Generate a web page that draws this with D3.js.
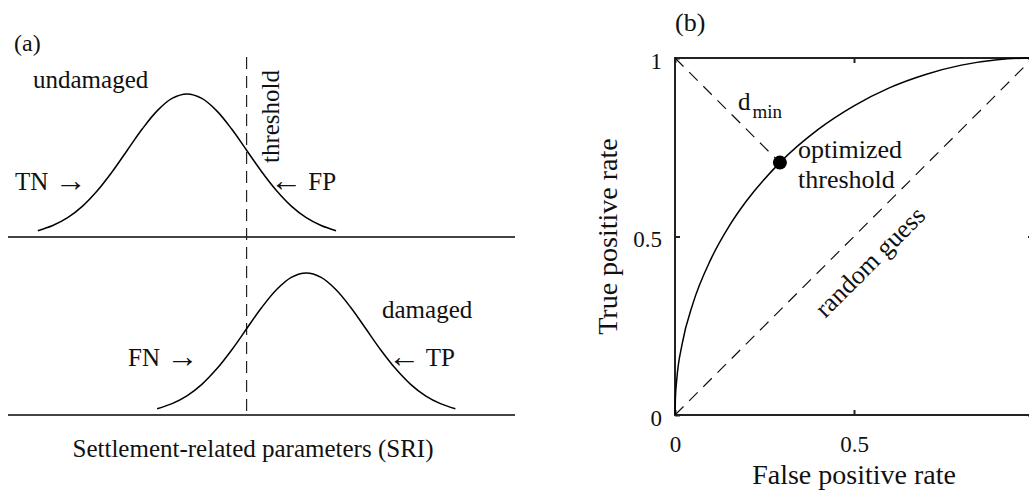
<!DOCTYPE html>
<html>
<head>
<meta charset="utf-8">
<script src="https://cdn.jsdelivr.net/npm/d3@7"></script>
<style>
  html, body { margin: 0; padding: 0; background: #fff; }
  svg { display: block; }
  text { font-family: "Liberation Serif", "Times New Roman", serif; fill: #111; }
</style>
</head>
<body>
<svg id="chart" width="1029" height="490"></svg>
<script>
// ---------------- Data ----------------
// Panel (a): SRI axis in units of the distribution spread; threshold at 0
const sriExtent = [-4, 4.5];
const thresholdValue = 0;
const undamagedX = [-3.5, -3.25, -3, -2.75, -2.5, -2.25, -2, -1.75, -1.5, -1.25, -1, -0.75, -0.5, -0.25, 0, 0.25, 0.5, 0.75, 1, 1.25, 1.5];
const undamagedY = [0.044, 0.080, 0.135, 0.216, 0.325, 0.458, 0.607, 0.755, 0.882, 0.969, 1.0, 0.969, 0.882, 0.755, 0.607, 0.458, 0.325, 0.216, 0.135, 0.080, 0.044];
const damagedX = [-1.5, -1.25, -1, -0.75, -0.5, -0.25, 0, 0.25, 0.5, 0.75, 1, 1.25, 1.5, 1.75, 2, 2.25, 2.5, 2.75, 3, 3.25, 3.5];
const damagedY = [0.044, 0.080, 0.135, 0.216, 0.325, 0.458, 0.607, 0.755, 0.882, 0.969, 1.0, 0.969, 0.882, 0.755, 0.607, 0.458, 0.325, 0.216, 0.135, 0.080, 0.044];

// Panel (b): ROC curve
const rocFPR = [0, 0.001, 0.005, 0.02, 0.05, 0.1, 0.15, 0.2, 0.293, 0.4, 0.5, 0.6, 0.7, 0.8, 0.9, 0.97, 1];
const rocTPR = [0, 0.045, 0.100, 0.199, 0.312, 0.436, 0.527, 0.600, 0.707, 0.800, 0.866, 0.917, 0.954, 0.980, 0.995, 0.9995, 1];
const optimalPoint = [0.293, 0.707];
const randomGuess = [[0, 0], [1, 1]];
const tickValues = [0, 0.5, 1];
const tickLabels = ["0", "0.5", "1"];

// ---------------- Drawing ----------------
const svg = d3.select("#chart");

// ----- Panel (a) -----
const xA = d3.scaleLinear().domain(sriExtent).range([8, 515]);
const yTop = d3.scaleLinear().domain([0, 1]).range([237, 94]);
const yBot = d3.scaleLinear().domain([0, 1]).range([415, 273]);

const gA = svg.append("g");

[yTop, yBot].forEach(ys => {
  gA.append("line")
    .attr("x1", xA(sriExtent[0])).attr("x2", xA(sriExtent[1]))
    .attr("y1", ys(0)).attr("y2", ys(0))
    .attr("stroke", "#444").attr("stroke-width", 2);
});

gA.append("line")
  .attr("x1", xA(thresholdValue)).attr("x2", xA(thresholdValue))
  .attr("y1", 57).attr("y2", yBot(0))
  .attr("stroke", "#222").attr("stroke-width", 1.2)
  .attr("stroke-dasharray", "12,7");

const lineTop = d3.line().x(d => xA(d[0])).y(d => yTop(d[1])).curve(d3.curveCatmullRom);
const lineBot = d3.line().x(d => xA(d[0])).y(d => yBot(d[1])).curve(d3.curveCatmullRom);

gA.append("path")
  .datum(undamagedX.map((x, i) => [x, undamagedY[i]]))
  .attr("d", lineTop).attr("fill", "none").attr("stroke", "#000").attr("stroke-width", 1.5);
gA.append("path")
  .datum(damagedX.map((x, i) => [x, damagedY[i]]))
  .attr("d", lineBot).attr("fill", "none").attr("stroke", "#000").attr("stroke-width", 1.5);

const fsA = 25;
gA.append("text").attr("x", 14).attr("y", 51).attr("font-size", 24).text("(a)");
gA.append("text").attr("x", 33).attr("y", 88).attr("font-size", fsA).text("undamaged");
gA.append("text").attr("transform", "translate(279,163) rotate(-90)").attr("font-size", fsA).text("threshold");

function arrowLabel(x, y, label, arrowFirst) {
  const t = gA.append("text").attr("x", x).attr("y", y).attr("font-size", fsA);
  if (arrowFirst) {
    t.append("tspan").attr("font-size", 32).attr("dy", 1).text("\u2190");
    t.append("tspan").attr("dy", -1).text(" " + label);
  } else {
    t.append("tspan").text(label + " ");
    t.append("tspan").attr("font-size", 32).attr("dy", 1).text("\u2192");
  }
}
arrowLabel(15, 190, "TN", false);
arrowLabel(270, 190, "FP", true);
gA.append("text").attr("x", 382).attr("y", 318).attr("font-size", fsA).text("damaged");
arrowLabel(128, 366, "FN", false);
arrowLabel(388, 366, "TP", true);
gA.append("text").attr("x", 253).attr("y", 457).attr("text-anchor", "middle").attr("font-size", fsA)
  .text("Settlement-related parameters (SRI)");

// ----- Panel (b) -----
const xB = d3.scaleLinear().domain([0, 1]).range([675, 1033]);
const yB = d3.scaleLinear().domain([0, 1]).range([415, 58]);
const gB = svg.append("g");

gB.append("rect")
  .attr("x", xB(0)).attr("y", yB(1))
  .attr("width", xB(1) - xB(0)).attr("height", yB(0) - yB(1))
  .attr("fill", "none").attr("stroke", "#222").attr("stroke-width", 2);

const fmt = v => tickLabels[tickValues.indexOf(v)];
const styleAxis = g => {
  g.select(".domain").remove();
  g.attr("font-family", null);
  g.selectAll(".tick line").attr("stroke", "#222").attr("stroke-width", 2);
  g.selectAll(".tick text").attr("font-size", 23).attr("fill", "#111");
};
gB.append("g").attr("transform", `translate(0,${yB(0)})`)
  .call(d3.axisBottom(xB).tickValues(tickValues).tickFormat(fmt).tickSizeInner(-5).tickSizeOuter(0).tickPadding(21))
  .call(styleAxis);
gB.append("g").attr("transform", `translate(0,${yB(1)})`)
  .call(d3.axisTop(xB).tickValues(tickValues).tickFormat("").tickSizeInner(-5).tickSizeOuter(0))
  .call(styleAxis);
gB.append("g").attr("transform", `translate(${xB(0)},0)`)
  .call(d3.axisLeft(yB).tickValues(tickValues).tickFormat(fmt).tickSizeInner(-5).tickSizeOuter(0).tickPadding(13))
  .call(styleAxis)
  .selectAll(".tick text").attr("dy", "0.45em");
gB.append("g").attr("transform", `translate(${xB(1)},0)`)
  .call(d3.axisRight(yB).tickValues(tickValues).tickFormat("").tickSizeInner(-5).tickSizeOuter(0))
  .call(styleAxis);

const lineB = d3.line().x(d => xB(d[0])).y(d => yB(d[1]));
gB.append("path").datum(randomGuess).attr("d", lineB)
  .attr("fill", "none").attr("stroke", "#111").attr("stroke-width", 1.2).attr("stroke-dasharray", "12,8");
gB.append("path").datum([[0, 1], optimalPoint]).attr("d", lineB)
  .attr("fill", "none").attr("stroke", "#111").attr("stroke-width", 1.2).attr("stroke-dasharray", "12,8");

gB.append("path")
  .datum(rocFPR.map((x, i) => [x, rocTPR[i]]))
  .attr("d", d3.line().x(d => xB(d[0])).y(d => yB(d[1])).curve(d3.curveMonotoneX))
  .attr("fill", "none").attr("stroke", "#000").attr("stroke-width", 1.5);

gB.append("circle").attr("cx", xB(optimalPoint[0])).attr("cy", yB(optimalPoint[1])).attr("r", 7).attr("fill", "#000");

gB.append("text").attr("x", 675).attr("y", 31).attr("font-size", 26).text("(b)");
const dm = gB.append("text").attr("x", 738).attr("y", 110).attr("font-size", 25);
dm.append("tspan").text("d");
dm.append("tspan").attr("dy", 8).attr("dx", 2).attr("font-size", 19).text("min");
gB.append("text").attr("x", 798).attr("y", 158).attr("font-size", 26).text("optimized");
gB.append("text").attr("x", 798).attr("y", 188).attr("font-size", 26).text("threshold");
gB.append("text").attr("transform", "translate(870,262) rotate(-45)")
  .attr("text-anchor", "middle").attr("dominant-baseline", "central").attr("font-size", 26).text("random guess");

gB.append("text").attr("x", xB(0.5)).attr("y", 484).attr("text-anchor", "middle").attr("font-size", 28)
  .text("False positive rate");
gB.append("text").attr("transform", `translate(617,${yB(0.5)}) rotate(-90)`).attr("text-anchor", "middle").attr("font-size", 28)
  .text("True positive rate");
</script>
</body>
</html>
